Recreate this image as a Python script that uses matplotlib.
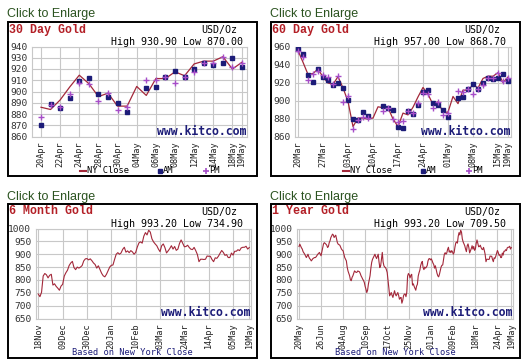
import numpy as np
import pandas as pd
import matplotlib
matplotlib.use("Agg")
import matplotlib.pyplot as plt
from matplotlib.lines import Line2D
from matplotlib.patches import Rectangle

W, H = 526, 364
nan = np.nan

# trading day calendars of the four charts
dates_30 = pd.bdate_range("2009-04-20", "2009-05-19")
dates_60 = pd.bdate_range("2009-03-20", "2009-05-19")
dates_6m = pd.bdate_range("2008-11-18", "2009-05-19")
dates_1y = pd.bdate_range("2008-05-20", "2009-05-19")

ticks_30 = ["20Apr", "22Apr", "24Apr", "28Apr", "30Apr", "04May", "06May",
            "08May", "12May", "14May", "18May", "19May"]
ticks_60 = ["20Mar", "27Mar", "03Apr", "10Apr", "17Apr", "24Apr", "01May",
            "08May", "15May", "19May"]
ticks_6m = ["18Nov", "09Dec", "30Dec", "20Jan", "10Feb", "03Mar", "24Mar",
            "14Apr", "05May", "19May"]
ticks_1y = ["20May", "26Jun", "04Aug", "10Sep", "17Oct", "25Nov", "01Jan",
            "09Feb", "18Mar", "24Apr", "19May"]

# ---- 30 day values (20Apr - 19May)
close_30 = [886, 884, 892.5, 904, 914.5, 907, 895.5, 898.5, 887, 887, 904.5,
            896.5, 911.5, 911.5, 917.5, 914, 924.5, 927, 927, 930.9, 920, 926]
am_30 = [870.0, 888.5, 885, 894.5, 909, 912, 897.5, 895, 889.5, 881.5, nan,
         903, 904, 912.5, 918, 912.5, 920, 925, 923.5, 925.5, 929.5, 921.5]
pm_30 = [877, 888, 886, 897.5, 908, 907, 891.5, 898.5, 883.5, 886, nan,
         910.5, 910, 912.5, 907.5, 913, 917, 925, 925, 930.5, 921.5, 925.5]

# ---- 60 day, days before 20Apr (20Mar - 17Apr)
close_60_head = [955.5, 942.5, 929, 930, 935, 926, 919.5, 918, 926.5, 914,
                 899, 871, 880.5, 880.5, 879.5, 880.5, 893, 892, 892, 879.5, 871]
am_60_head = [957.0, 952, 928, 921, 935, 926.5, 923, 917, 920, 914, 900.5,
              880, 878.5, 887.5, 883, nan, nan, 894, 892, 889, 871]
pm_60_head = [955, 948, 923, 929, 932.5, 928, 926.5, 918, 927, 898, 905,
              868.7, 878.5, 881.5, 880.5, nan, nan, 888, 892, 879, 876]

# ---- 6 month close, days before 20Mar (18Nov - 19Mar)
close_6m_head = [745, 734.9, 752, 815, 825,
                 820, 808, 818, 822, 780,
                 785, 775, 768, 760, 776,
                 783, 815, 828, 838, 856,
                 866, 872, 848, 840, 850,
                 846, 850, 856, 874, 882,
                 883, 878, 882, 875, 866,
                 860, 846, 855, 840, 826,
                 816, 812, 822, 836, 850,
                 857, 858, 880, 900, 906,
                 900, 905, 919, 927, 908,
                 913, 906, 914, 909, 900,
                 907, 928, 944, 948, 943,
                 970, 984, 975, 993.2, 986,
                 960, 948, 940, 933, 920,
                 910, 933, 940, 926, 905,
                 913, 922, 933, 920, 930,
                 915, 920, 942]

# ---- 1 year close, days before 18Nov (20May08 - 17Nov08)
close_1y_head = [930, 939, 932, 925, 920,
                 910, 905, 900, 893, 887,
                 893, 900, 890, 883, 880,
                 874, 878, 883, 885, 887,
                 887, 890, 895, 900, 903,
                 907, 900, 894, 910, 926,
                 940, 945, 942, 939, 935,
                 926, 930, 945, 952, 965,
                 971, 978, 975, 965, 970,
                 974, 960, 945, 939, 937,
                 935, 928, 920, 916, 913,
                 900, 887, 880, 874, 850,
                 835, 825, 816, 800, 797,
                 810, 816, 825, 835, 832,
                 829, 830, 835, 833, 832,
                 825, 816, 810, 803, 798,
                 790, 775, 764, 751, 760,
                 784, 800, 816, 845, 868,
                 880, 887, 895, 900, 890,
                 883, 892, 900, 870, 848,
                 855, 880, 907, 870, 855,
                 850, 848, 840, 829, 800,
                 770, 738, 745, 751, 740,
                 732, 745, 758, 745, 738,
                 745, 751, 740, 725, 730,
                 732, 709.5, 720, 738, 745]

close_60 = close_60_head + close_30
am_60 = am_60_head + am_30
pm_60 = pm_60_head + pm_30
close_6m = close_6m_head + close_60
close_1y = close_1y_head + close_6m

MONO = "DejaVu Sans Mono"
LINE_RED = "#a3283a"
NAVY = "#1c1c78"
PURPLE = "#a64dc8"
GRID = "#c8c8c8"


def ftext(fig, x, y, s, **kw):
    """ text placed in pixel coordinates of the 526x364 image """
    fig.text(x / W, 1 - y / H, s, **kw)


def draw_panel(fig, ox, oy, title, hi, lo, dates, ticks, yticks, close,
               am=None, pm=None, plot_box=(33, 46.5, 248, 136.5), first_last=(40, 243)):
    # "Click to Enlarge" caption and the frame
    ftext(fig, ox + 7, oy + 17.5, "Click to Enlarge", family="Liberation Sans",
          fontsize=9, color="#2b5320", va="baseline")
    fig.add_artist(Rectangle(((ox + 7.5) / W, 1 - (oy + 175.5) / H),
                             249 / W, 153.5 / H, transform=fig.transFigure,
                             fill=False, ec="black", lw=1.4))

    ftext(fig, ox + 9, oy + 32.5, title, family="Liberation Mono",
          fontweight="bold", fontsize=8.4, color="#b31f26", va="baseline")
    ftext(fig, ox + 237, oy + 33, "USD/Oz", family=MONO, fontsize=7.2,
          ha="right", va="baseline")
    ftext(fig, ox + 242.5, oy + 45, "High %.2f Low %.2f" % (hi, lo),
          family=MONO, fontsize=7.2, ha="right", va="baseline")

    l, t, r, b = plot_box
    ax = fig.add_axes([(ox + l) / W, 1 - (oy + b) / H, (r - l) / W, (b - t) / H])
    n = len(dates)
    x0, x1 = first_last
    per = (x1 - x0) / (n - 1)
    ax.set_xlim((l - x0) / per, (r - x0) / per)
    ax.set_ylim(yticks[0], yticks[-1])

    x = np.arange(n)
    ax.plot(x, close, color=LINE_RED, lw=0.9 if am is not None else 0.8, zorder=3)
    if am is not None:
        ax.plot(x, am, ls="none", marker="s", ms=2.6, color=NAVY, zorder=4)
        ax.plot(x, pm, ls="none", marker="+", ms=4, mew=1, color=PURPLE, zorder=5)

    lookup = {d.strftime("%d%b"): i for i, d in enumerate(dates)}
    ax.set_xticks([lookup[s] for s in ticks])
    ax.set_xticklabels(ticks, rotation=90, family=MONO, fontsize=6.1, color="#222222")
    ax.set_yticks(yticks)
    ax.set_yticklabels([str(v) for v in yticks], family=MONO, fontsize=6.8,
                       color="#333333")
    ax.tick_params(length=0, pad=3.5)
    ax.grid(True, color=GRID, lw=0.8)
    ax.set_axisbelow(True)
    for sp in ax.spines.values():
        sp.set_color(GRID)
        sp.set_linewidth(0.8)

    ftext(fig, ox + r - 0.5, oy + 131, "www.kitco.com", family=MONO,
          fontweight="bold", fontsize=8.3, color=NAVY, ha="right", va="center")

    ly = oy + 170.5
    if am is not None:
        fig.add_artist(Line2D([(ox + 80) / W, (ox + 86) / W], [1 - ly / H] * 2,
                              transform=fig.transFigure, color=LINE_RED, lw=1.5))
        ftext(fig, ox + 87, ly, "NY Close", family=MONO, fontsize=6.3, va="center")
        fig.add_artist(Line2D([(ox + 160) / W], [1 - ly / H], transform=fig.transFigure,
                              marker="s", ms=2.8, color=NAVY, ls="none"))
        ftext(fig, ox + 163, ly, "AM", family=MONO, fontsize=6.3, va="center")
        fig.add_artist(Line2D([(ox + 206) / W], [1 - ly / H], transform=fig.transFigure,
                              marker="+", ms=4.5, mew=1.2, color=PURPLE, ls="none"))
        ftext(fig, ox + 209, ly, "PM", family=MONO, fontsize=6.3, va="center")
    else:
        ftext(fig, ox + 132, ly, "Based on New York Close", family=MONO,
              fontsize=6.2, color=NAVY, ha="center", va="center")
    return ax


fig = plt.figure(figsize=(W / 100, H / 100), dpi=100)
fig.patch.set_facecolor("white")

draw_panel(fig, 0, 0, "30 Day Gold", 930.90, 870.00, dates_30, ticks_30,
           list(range(860, 941, 10)), close_30, am_30, pm_30,
           plot_box=(32, 46.5, 247, 136.5), first_last=(41, 242))
draw_panel(fig, 263, 0, "60 Day Gold", 957.00, 868.70, dates_60, ticks_60,
           list(range(860, 961, 20)), close_60, am_60, pm_60,
           plot_box=(32.3, 46.5, 248.3, 136.5), first_last=(35, 245))
draw_panel(fig, 0, 182, "6 Month Gold", 993.20, 734.90, dates_6m, ticks_6m,
           list(range(650, 1001, 50)), close_6m,
           plot_box=(36, 46.5, 250.7, 136.5), first_last=(38.3, 249.3))
draw_panel(fig, 263, 182, "1 Year Gold", 993.20, 709.50, dates_1y, ticks_1y,
           list(range(650, 1001, 50)), close_1y,
           plot_box=(34.3, 46.5, 250, 136.5), first_last=(36, 248.3))

fig.savefig("out.png", dpi=100, facecolor="white")
